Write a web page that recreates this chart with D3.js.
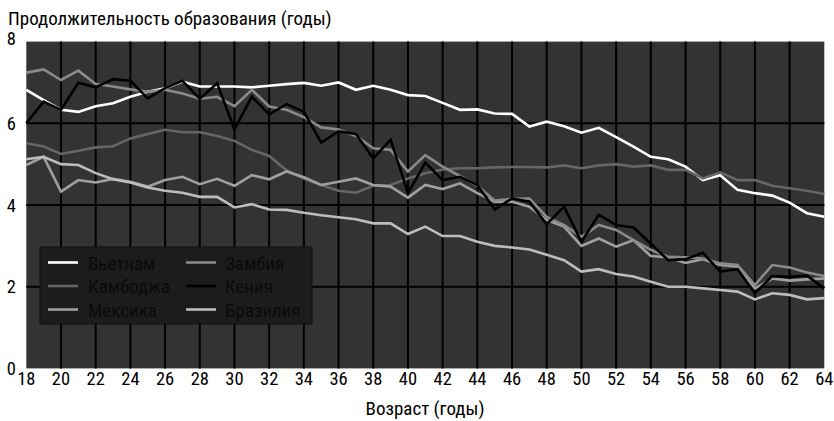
<!DOCTYPE html>
<html><head><meta charset="utf-8">
<script src="https://cdn.jsdelivr.net/npm/d3@7"></script>
<style>
html,body{margin:0;padding:0;background:#fff;}
svg text{font-family:"Liberation Sans Narrow","Roboto Condensed","DejaVu Sans Condensed","Arial Narrow",sans-serif;}
</style></head>
<body><svg id="c" width="834" height="421"></svg>
<script>
const ages = [18,19,20,21,22,23,24,25,26,27,28,29,30,31,32,33,34,35,36,37,38,39,40,41,42,43,44,45,46,47,48,49,50,51,52,53,54,55,56,57,58,59,60,61,62,63,64];
const xTicks = [18,20,22,24,26,28,30,32,34,36,38,40,42,44,46,48,50,52,54,56,58,60,62,64];
const yTicks = [0,2,4,6,8];
const seriesNames = ["Вьетнам","Камбоджа","Мексика","Замбия","Кения","Бразилия"];
const vietnam = [6.82,6.57,6.33,6.28,6.42,6.49,6.65,6.77,6.86,7.02,6.9,6.9,6.9,6.88,6.92,6.96,6.99,6.92,7.0,6.82,6.92,6.82,6.69,6.67,6.5,6.33,6.34,6.24,6.23,5.92,6.04,5.93,5.77,5.89,5.66,5.43,5.18,5.12,4.94,4.61,4.73,4.37,4.29,4.23,4.06,3.8,3.71];
const cambodia = [5.51,5.43,5.25,5.33,5.41,5.44,5.63,5.74,5.84,5.78,5.78,5.69,5.57,5.35,5.2,4.85,4.65,4.49,4.35,4.3,4.47,4.49,4.65,4.78,4.87,4.9,4.9,4.92,4.93,4.93,4.92,4.97,4.9,4.97,5.0,4.94,4.97,4.86,4.86,4.65,4.8,4.61,4.61,4.47,4.41,4.35,4.27];
const mexico = [4.98,5.18,4.33,4.61,4.55,4.64,4.57,4.45,4.61,4.69,4.51,4.64,4.47,4.73,4.63,4.82,4.68,4.49,4.57,4.65,4.49,4.45,4.18,4.49,4.39,4.53,4.29,4.08,4.08,3.96,3.63,3.47,3.0,3.18,2.98,3.14,2.75,2.72,2.58,2.67,2.53,2.49,1.96,2.2,2.15,2.18,2.2];
const zambia = [7.24,7.32,7.06,7.29,6.96,6.9,6.83,6.77,6.82,6.73,6.6,6.65,6.42,6.82,6.41,6.33,6.15,5.9,5.85,5.69,5.39,5.35,4.82,5.22,4.94,4.71,4.47,4.11,4.15,4.16,3.71,3.51,3.22,3.51,3.39,3.14,2.9,2.73,2.72,2.69,2.57,2.53,2.04,2.53,2.47,2.35,2.26];
const kenya = [6.0,6.53,6.33,6.99,6.88,7.08,7.04,6.61,6.86,7.04,6.6,6.98,5.85,6.65,6.22,6.47,6.28,5.53,5.8,5.74,5.14,5.6,4.29,5.04,4.61,4.69,4.49,3.89,4.16,4.08,3.53,3.96,3.1,3.76,3.51,3.45,3.05,2.65,2.67,2.83,2.37,2.43,1.84,2.26,2.24,2.27,1.96];
const brazil = [5.12,5.18,5.0,4.98,4.78,4.63,4.55,4.43,4.35,4.3,4.2,4.2,3.94,4.02,3.89,3.88,3.81,3.75,3.7,3.65,3.55,3.55,3.29,3.47,3.24,3.24,3.1,3.0,2.96,2.91,2.78,2.65,2.37,2.43,2.31,2.25,2.12,2.0,2.0,1.96,1.92,1.88,1.69,1.84,1.8,1.69,1.72];
const seriesValues = [vietnam,cambodia,mexico,zambia,kenya,brazil];
const seriesColors = ["#ffffff","#666666","#a0a0a0","#8a8a8a","#000000","#bdbdbd"];

const svg = d3.select("#c");
const x = d3.scaleLinear().domain([18,64]).range([26.3,824.3]);
const y = d3.scaleLinear().domain([0,8]).range([368.4,41.6]);

svg.append("rect").attr("x",x(18)).attr("y",y(8)).attr("width",x(64)-x(18)).attr("height",y(0)-y(8)).attr("fill","#333333");

// grid
svg.append("g").selectAll("line").data(xTicks.filter(t=>t>18&&t<64)).join("line")
  .attr("x1",d=>x(d)).attr("x2",d=>x(d)).attr("y1",y(0)).attr("y2",y(8))
  .attr("stroke","#000").attr("stroke-width",2);
svg.append("g").selectAll("line").data(yTicks.filter(t=>t>0&&t<8)).join("line")
  .attr("x1",x(18)).attr("x2",x(64)).attr("y1",d=>y(d)).attr("y2",d=>y(d))
  .attr("stroke","#000").attr("stroke-width",2);

// lines
const line = d3.line().x((d,i)=>x(ages[i])).y(d=>y(d));
seriesValues.forEach((vals,k)=>{
  svg.append("path").datum(vals).attr("d",line).attr("fill","none")
    .attr("stroke",seriesColors[k]).attr("stroke-width",2.6).attr("stroke-linejoin","miter");
});

// axes labels
svg.append("g").selectAll("text").data(xTicks).join("text")
  .attr("x",d=>x(d)).attr("y",384.5).attr("text-anchor","middle")
  .attr("font-size",18.5).attr("fill","#000").text(d=>d);
svg.append("g").selectAll("text").data(yTicks).join("text")
  .attr("x",16).attr("y",d=>y(d)+(d===8?3.5:6.5)).attr("text-anchor","end")
  .attr("font-size",18.5).attr("fill","#000").text(d=>d);

svg.append("text").attr("x",8).attr("y",25).attr("font-size",19).attr("fill","#000")
  .text("Продолжительность образования (годы)");
svg.append("text").attr("x",425).attr("y",415).attr("text-anchor","middle").attr("font-size",19).attr("fill","#000")
  .text("Возраст (годы)");

// legend
const lg = svg.append("g");
lg.append("rect").attr("x",40).attr("y",247).attr("width",272).attr("height",77)
  .attr("fill","#1c1c1c").attr("stroke","#111").attr("stroke-width",1);
const rowsY = [262.5,286,309.5];
seriesNames.forEach((name,k)=>{
  const col = Math.floor(k/3), row = k%3;
  const lx = col===0?48:186;
  const tx = col===0?88:225;
  lg.append("line").attr("x1",lx).attr("x2",lx+30).attr("y1",rowsY[row]).attr("y2",rowsY[row])
    .attr("stroke",seriesColors[k]).attr("stroke-width",2.6);
  lg.append("text").attr("x",tx).attr("y",rowsY[row]+7).attr("font-size",19).attr("fill","#0a0a0a").text(name);
});
</script></body></html>
